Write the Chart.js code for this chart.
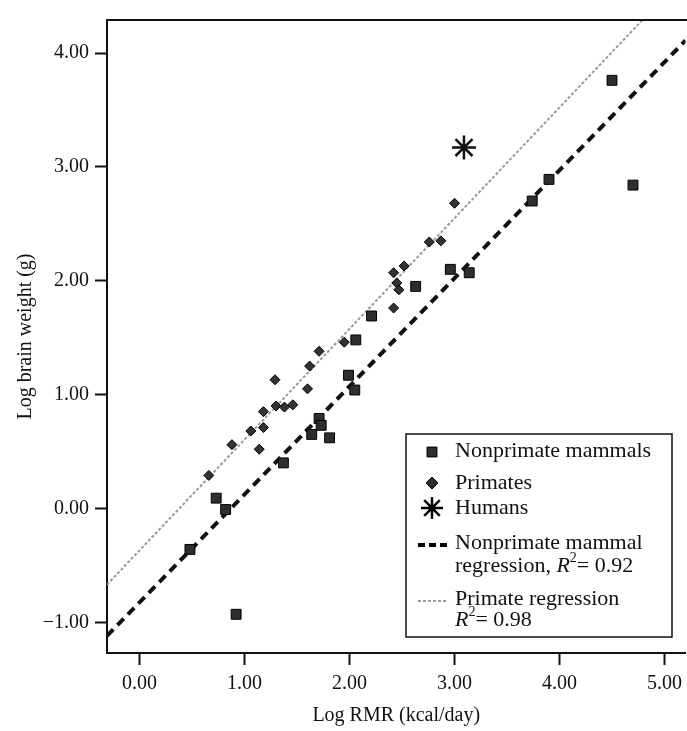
<!DOCTYPE html>
<html>
<head>
<meta charset="utf-8">
<script src="https://cdn.jsdelivr.net/npm/chart.js@4/dist/chart.umd.min.js"></script>
<style>
  html, body { margin: 0; padding: 0; background: #fff; overflow: hidden; }
  #wrap { width: 700px; height: 731px; }
</style>
</head>
<body>
<div id="wrap"><canvas id="chart" width="700" height="731"></canvas></div>
<script>
// ============ DATA ============

// nonprimate mammals (squares)
const nonprimateX = [0.48, 0.73, 0.82, 0.92, 1.37, 1.64, 1.71, 1.73, 1.81, 1.99, 2.05, 2.06, 2.21, 2.63, 2.96, 3.14, 3.74, 3.90, 4.50, 4.70];
const nonprimateY = [-0.36, 0.09, -0.01, -0.93, 0.40, 0.65, 0.79, 0.73, 0.62, 1.17, 1.04, 1.48, 1.69, 1.95, 2.10, 2.07, 2.70, 2.89, 3.76, 2.84];

// primates
const primateX = [0.66, 0.88, 1.06, 1.14, 1.18, 1.18, 1.29, 1.30, 1.38, 1.46, 1.60, 1.62, 1.71, 1.95, 2.42, 2.42, 2.45, 2.47, 2.52, 2.76, 2.87, 3.00];
const primateY = [0.29, 0.56, 0.68, 0.52, 0.71, 0.85, 1.13, 0.90, 0.89, 0.91, 1.05, 1.25, 1.38, 1.46, 1.76, 2.07, 1.98, 1.92, 2.13, 2.34, 2.35, 2.68];

// humans
const humanX = [3.09];
const humanY = [3.17];

// regression lines (end points)
const nonprimateFitX = [-0.31, 5.20];
const nonprimateFitY = [-1.12, 4.11];
const primateFitX = [-0.31, 4.80];
const primateFitY = [-0.67, 4.30];

const xTicks = [0, 1, 2, 3, 4, 5];
const yTicks = [-1, 0, 1, 2, 3, 4];

// ============ HELPERS ============

function toPoints(xs, ys) {
  return xs.map((x, i) => ({ x: x, y: ys[i] }));
}

function fmtTick(v) {
  return (v < 0 ? '\u2212' : '') + Math.abs(v).toFixed(2);
}

const FONT = '"Liberation Serif", "Times New Roman", serif';
Chart.defaults.font.family = FONT;
Chart.defaults.color = '#111';

// box line along the top of the plot
const topBorder = {
  id: 'topBorder',
  afterDraw(chart) {
    const { ctx, chartArea } = chart;
    ctx.save();
    ctx.strokeStyle = '#111';
    ctx.lineWidth = 2;
    ctx.beginPath();
    ctx.moveTo(chartArea.left - 1, chartArea.top);
    ctx.lineTo(chartArea.right + 5, chartArea.top);
    ctx.stroke();
    ctx.restore();
  }
};

function drawR2(ctx, prefix, value, x, y) {
  ctx.font = '22px ' + FONT;
  ctx.fillText(prefix, x, y);
  x += ctx.measureText(prefix).width;
  ctx.font = 'italic 22px ' + FONT;
  ctx.fillText('R', x, y);
  x += ctx.measureText('R').width;
  ctx.font = '14px ' + FONT;
  ctx.fillText('2', x, y - 8);
  x += ctx.measureText('2').width;
  ctx.font = '22px ' + FONT;
  ctx.fillText('= ' + value, x, y);
}

// hand drawn legend box like the original figure
const legendBox = {
  id: 'legendBox',
  afterDraw(chart) {
    const ctx = chart.ctx;
    const dp = Chart.helpers.drawPoint;
    const bx = 406, by = 434, bw = 266, bh = 203;
    const mx = 432, tx = 455;
    ctx.save();
    ctx.fillStyle = '#fff';
    ctx.fillRect(bx, by, bw, bh);
    ctx.strokeStyle = '#111';
    ctx.lineWidth = 1.5;
    ctx.strokeRect(bx, by, bw, bh);

    // markers
    ctx.fillStyle = '#2e2e2e';
    ctx.strokeStyle = '#000';
    ctx.lineWidth = 1;
    dp(ctx, { pointStyle: 'rect', radius: 7, rotation: 0 }, mx, 452);
    ctx.fill(); ctx.stroke();
    dp(ctx, { pointStyle: 'rectRot', radius: 6, rotation: 0 }, mx, 483);
    ctx.fill(); ctx.stroke();
    ctx.lineWidth = 2.5;
    dp(ctx, { pointStyle: 'star', radius: 11, rotation: 0 }, mx, 508);
    ctx.stroke();

    ctx.lineWidth = 4;
    ctx.setLineDash([7, 4]);
    ctx.beginPath();
    ctx.moveTo(418, 545);
    ctx.lineTo(447, 545);
    ctx.stroke();

    ctx.strokeStyle = '#9a9a9a';
    ctx.lineWidth = 2;
    ctx.setLineDash([3, 2]);
    ctx.beginPath();
    ctx.moveTo(418, 601);
    ctx.lineTo(448, 601);
    ctx.stroke();
    ctx.setLineDash([]);

    // texts
    ctx.fillStyle = '#111';
    ctx.textBaseline = 'middle';
    ctx.textAlign = 'left';
    ctx.font = '22px ' + FONT;
    ctx.fillText('Nonprimate mammals', tx, 451);
    ctx.fillText('Primates', tx, 483);
    ctx.fillText('Humans', tx, 508);
    ctx.fillText('Nonprimate mammal', tx, 543);
    drawR2(ctx, 'regression, ', '0.92', tx, 566);
    ctx.font = '22px ' + FONT;
    ctx.fillText('Primate regression', tx, 599);
    drawR2(ctx, '', '0.98', tx, 620);
    ctx.restore();
  }
};

// ============ CHART ============

const ctx = document.getElementById('chart').getContext('2d');

new Chart(ctx, {
  type: 'scatter',
  data: {
    datasets: [
      {
        label: 'Nonprimate mammals',
        data: toPoints(nonprimateX, nonprimateY),
        pointStyle: 'rect',
        pointRadius: 7,
        backgroundColor: '#2e2e2e',
        borderColor: '#000',
        borderWidth: 1,
        order: 1
      },
      {
        label: 'Primates',
        data: toPoints(primateX, primateY),
        pointStyle: 'rectRot',
        pointRadius: 5,
        backgroundColor: '#333',
        borderColor: '#000',
        borderWidth: 1,
        order: 1
      },
      {
        label: 'Humans',
        data: toPoints(humanX, humanY),
        pointStyle: 'star',
        pointRadius: 12,
        backgroundColor: '#111',
        borderColor: '#111',
        borderWidth: 2.5,
        order: 0
      },
      {
        label: 'Nonprimate mammal regression',
        data: toPoints(nonprimateFitX, nonprimateFitY),
        showLine: true,
        pointRadius: 0,
        borderColor: '#111',
        borderWidth: 4,
        borderDash: [9, 6],
        order: 2
      },
      {
        label: 'Primate regression',
        data: toPoints(primateFitX, primateFitY),
        showLine: true,
        pointRadius: 0,
        borderColor: '#9a9a9a',
        borderWidth: 2,
        borderDash: [3, 2],
        order: 2
      }
    ]
  },
  options: {
    responsive: false,
    animation: false,
    layout: { padding: { top: 20, right: 12, left: 0, bottom: 0 } },
    plugins: {
      legend: { display: false },
      tooltip: { enabled: false }
    },
    scales: {
      x: {
        type: 'linear',
        min: -0.31,
        max: 5.2,
        afterFit: s => { s.height = 78; },
        afterBuildTicks: s => { s.ticks = xTicks.map(v => ({ value: v })); },
        ticks: {
          callback: fmtTick,
          font: { size: 20 },
          padding: 7,
          maxRotation: 0
        },
        grid: { drawOnChartArea: false, drawTicks: true, tickLength: 12, tickColor: '#111', tickWidth: 2 },
        border: { color: '#111', width: 2 },
        title: {
          display: true,
          text: 'Log RMR (kcal/day)',
          font: { size: 20 },
          padding: { top: 0, bottom: 3 }
        }
      },
      y: {
        type: 'linear',
        min: -1.27,
        max: 4.29,
        afterFit: s => { s.width = 107; },
        afterBuildTicks: s => { s.ticks = yTicks.map(v => ({ value: v })); },
        ticks: {
          callback: fmtTick,
          font: { size: 20 },
          padding: 6
        },
        grid: { drawOnChartArea: false, drawTicks: true, tickLength: 12, tickColor: '#111', tickWidth: 2 },
        border: { color: '#111', width: 2 },
        title: {
          display: true,
          text: 'Log brain weight (g)',
          font: { size: 20 },
          padding: { top: 14, bottom: 0 }
        }
      }
    }
  },
  plugins: [topBorder, legendBox]
});
</script>
</body>
</html>
